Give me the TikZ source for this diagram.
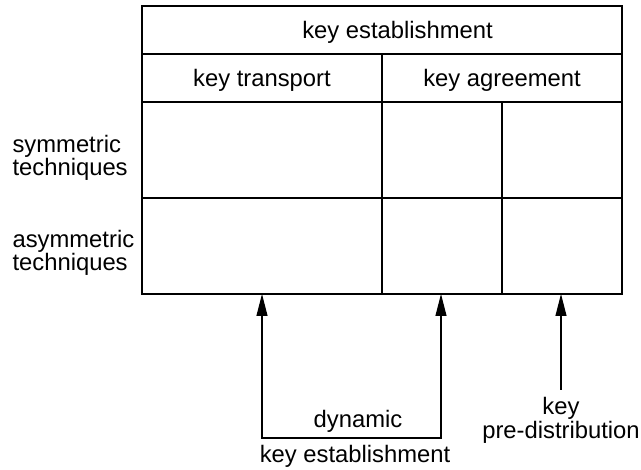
\documentclass[tikz,border=0pt]{standalone}
\usepackage{fontspec}
\setmainfont{Liberation Sans}
\usetikzlibrary{arrows.meta, positioning, calc}

\begin{document}
\begin{tikzpicture}[x=1pt, y=-1pt, line width=1.1pt, >={Triangle[length=22pt, width=11pt]}]
    \tikzstyle{lbl}=[inner sep=0pt, font=\fontsize{23.8}{24}\selectfont];
    \useasboundingbox (0,0) rectangle (641,470);

    % table frame
    \coordinate (nw) at (142,6);
    \coordinate (se) at (622,294);
    \draw (nw) rectangle (se);
    \draw (142,54) -- (622,54);
    \draw (142,102) -- (622,102);
    \draw (142,198) -- (622,198);
    \draw (382,54) -- (382,294);
    \draw (502,102) -- (502,294);

    % headings
    \node[lbl, anchor=base] (estab) at (397.5,38.3) {key establishment};
    \node[lbl, anchor=base] (transp) at (262,86.3) {key transport};
    \node[lbl, anchor=base] (agree) at (502,86.3) {key agreement};
    \node[lbl, anchor=base west] (sym) at (12,152.3) {symmetric};
    \node[lbl, anchor=base west] (symtech) at (12,175.3) {techniques};
    \node[lbl, anchor=base west] (asym) at (12,247.7) {asymmetric};
    \node[lbl, anchor=base west] (asymtech) at (12,270.7) {techniques};

    % bottom labels
    \node[lbl, anchor=base] (dyn) at (358,427.7) {dynamic};
    \node[lbl, anchor=base] (dynest) at (355,463) {key establishment};
    \node[lbl, anchor=base] (pre) at (561,415) {key};
    \node[lbl, anchor=base] (predist) at (561,438.5) {pre-distribution};

    % pointers
    \coordinate (transpin) at (262,294);
    \coordinate (agreein) at (441,294);
    \coordinate (prein) at (561,294);
    \coordinate (dynl) at (262,438);
    \coordinate (dynr) at (441,438);
    \coordinate (prefoot) at (561,390);
    \draw[<->] (transpin) -- (dynl) -- (dynr) -- (agreein);
    \draw[->] (prefoot) -- (prein);
\end{tikzpicture}
\end{document}
